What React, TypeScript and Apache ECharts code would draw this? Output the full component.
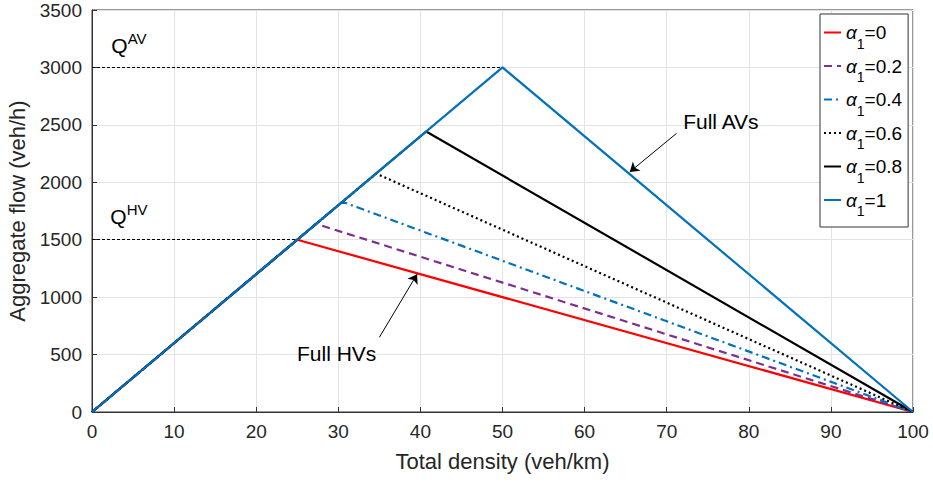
import React, { useEffect, useRef } from "react";
import * as echarts from "echarts";

// ---- data ----
const alphaLabels = ["0", "0.2", "0.4", "0.6", "0.8", "1"];
const criticalDensity = [25, 27.3, 30.5, 34.6, 40.7, 50]; // veh/km at peak
const capacity = [1500, 1638, 1830, 2076, 2442, 3000]; // veh/h at peak
const jamDensity = 100;
const seriesColors = ["#FF0000", "#7E2F8E", "#0072BD", "#000000", "#000000", "#0072BD"];
const seriesDash: any[] = ["solid", [8, 5], [8, 4, 2, 4], [2, 3], "solid", "solid"];

const xTicks = { min: 0, max: 100, interval: 10 };
const yTicks = { min: 0, max: 3500, interval: 500 };

// annotation anchors (data coordinates)
const qAvLabel = [4.5, 3195];
const qHvLabel = [4.5, 1706];
const fullAvText = [76.6, 2533];
const fullHvText = [29.8, 505];
const fullAvArrow = [[71.2, 2426], [65.5, 2090]];
const fullHvArrow = [[35.0, 650], [39.6, 1200]];

const FONT = "Liberation Sans, Arial, Helvetica, sans-serif";

export default function App() {
  const ref = useRef<HTMLDivElement>(null);

  useEffect(() => {
    if (!ref.current) return;
    const chart = echarts.init(ref.current, null, { renderer: "svg" });

    const names = alphaLabels.map((a) => `α1=${a}`);

    const series: any[] = alphaLabels.map((a, i) => ({
      name: names[i],
      type: "line",
      symbol: "none",
      z: 2 + i,
      data: [
        [0, 0],
        [criticalDensity[i], capacity[i]],
        [jamDensity, 0],
      ],
      lineStyle: { color: seriesColors[i], width: 2.2, type: seriesDash[i] },
      itemStyle: { color: seriesColors[i] },
    }));

    const qRich = {
      q: { fontSize: 21, lineHeight: 30, verticalAlign: "middle", color: "#000", fontFamily: FONT },
      s: { fontSize: 15, height: 16, lineHeight: 16, verticalAlign: "top", color: "#000", fontFamily: FONT },
    };

    series.push({
      name: "annot",
      type: "line",
      data: [],
      symbol: "none",
      silent: true,
      z: 1,
      markLine: {
        silent: true,
        symbol: ["none", "none"],
        label: { show: false },
        lineStyle: { color: "#000", width: 1, type: [3, 2] },
        data: [
          [{ coord: [0, capacity[5]] }, { coord: [criticalDensity[5], capacity[5]] }],
          [{ coord: [0, capacity[0]] }, { coord: [criticalDensity[0], capacity[0]] }],
        ],
      },
    });
    series.push({
      name: "arrows",
      type: "line",
      data: [],
      symbol: "none",
      silent: true,
      z: 20,
      markLine: {
        silent: true,
        symbol: ["none", "arrow"],
        symbolSize: 9,
        label: { show: false },
        lineStyle: { color: "#000", width: 1, type: "solid" },
        data: [
          [{ coord: fullAvArrow[0] }, { coord: fullAvArrow[1] }],
          [{ coord: fullHvArrow[0] }, { coord: fullHvArrow[1] }],
        ],
      },
      markPoint: {
        silent: true,
        symbol: "rect",
        symbolSize: 1,
        itemStyle: { color: "rgba(0,0,0,0)" },
        label: { show: true, position: "inside", color: "#000", fontFamily: FONT, fontSize: 21 },
        data: [
          { coord: fullAvText, label: { formatter: "Full AVs" } },
          { coord: fullHvText, label: { formatter: "Full HVs" } },
          { coord: qAvLabel, label: { formatter: "{q|Q}{s|AV}", rich: qRich } },
          { coord: qHvLabel, label: { formatter: "{q|Q}{s|HV}", rich: qRich } },
        ],
      },
    });

    const axisCommon = {
      axisLine: { show: true, lineStyle: { color: "#333", width: 1 } },
      axisTick: { show: true, inside: true, length: 5, lineStyle: { color: "#333" } },
      splitLine: { show: true, lineStyle: { color: "#e3e3e3", width: 1 } },
      axisLabel: { color: "#262626", fontSize: 19, fontFamily: FONT, formatter: (v: number) => String(v) },
      nameTextStyle: { color: "#262626", fontSize: 22, fontFamily: FONT },
    };

    chart.setOption({
      animation: false,
      backgroundColor: "#fff",
      grid: {
        left: 92,
        right: 20,
        top: 10,
        bottom: 71,
        containLabel: false,
        outerBoundsMode: "none",
        show: true,
        borderColor: "#333",
        borderWidth: 1,
        backgroundColor: "#fff",
      },
      xAxis: {
        type: "value",
        ...xTicks,
        ...axisCommon,
        axisLabel: { ...axisCommon.axisLabel, margin: 10 },
        name: "Total density (veh/km)",
        nameLocation: "middle",
        nameGap: 38,
      },
      yAxis: {
        type: "value",
        ...yTicks,
        ...axisCommon,
        axisLabel: { ...axisCommon.axisLabel, margin: 10 },
        name: "Aggregate flow (veh/h)",
        nameLocation: "middle",
        nameGap: 58,
      },
      legend: {
        data: names,
        orient: "vertical",
        left: 820,
        top: 14,
        padding: [9, 6, 9, 3],
        itemWidth: 17,
        itemHeight: 12,
        itemGap: 6,
        backgroundColor: "#fff",
        borderColor: "#333",
        borderWidth: 1,
        borderRadius: 0,
        selectedMode: false,
        itemStyle: { opacity: 0 },
        formatter: (n: string) => `{a|α}{b|1}{c|=${n.split("=")[1]}}`,
        textStyle: {
          fontFamily: FONT,
          fontSize: 19,
          color: "#000",
          rich: {
            a: { fontSize: 19, lineHeight: 36, verticalAlign: "middle", fontStyle: "italic", fontFamily: FONT, color: "#000" },
            b: { fontSize: 14, height: 14, lineHeight: 14, verticalAlign: "bottom", fontFamily: FONT, color: "#000" },
            c: { fontSize: 19, lineHeight: 36, verticalAlign: "middle", fontFamily: FONT, color: "#000" },
          },
        },
      },
      series,
    });

    return () => chart.dispose();
  }, []);

  return (
    <div
      ref={ref}
      style={{ position: "fixed", left: 0, top: 0, width: 933, height: 483, background: "#fff" }}
    />
  );
}
